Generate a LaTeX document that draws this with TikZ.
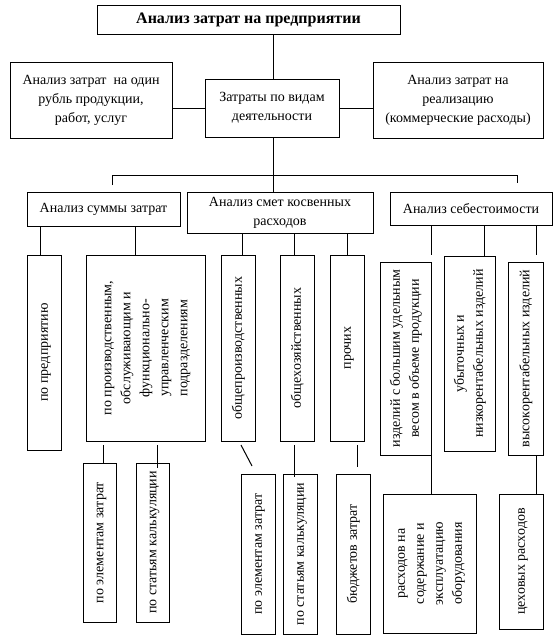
\documentclass[tikz,border=0pt]{standalone}
\usepackage{fontspec}
\setmainfont{Liberation Serif}
\usetikzlibrary{calc}
\newcommand{\vtext}[1]{\rotatebox{90}{\begin{tabular}{@{}c@{}}#1\end{tabular}}}
\begin{document}
\begin{tikzpicture}[x=1pt,y=-1pt,
  box/.style={draw, line width=1pt, inner sep=0pt, align=center, font=\fontsize{14}{19}\selectfont},
  title/.style={box, font=\bfseries\fontsize{16}{19}\selectfont},
  conn/.style={line width=1pt}]
\useasboundingbox (0,0) rectangle (557,641);
% level 0/1
\node[title, minimum width=303pt, minimum height=29pt] (top) at (248.5,19.5) {Анализ затрат на предприятии};
\node[box, minimum width=162pt, minimum height=76pt] (left) at (91,100) {Анализ затрат\ \ на один\\рубль продукции,\\работ, услуг};
\node[box, minimum width=134pt, minimum height=58pt] (mid) at (272,108) {Затраты по видам\\деятельности};
\node[box, minimum width=170pt, minimum height=76pt] (right) at (458,100) {Анализ затрат на\\реализацию\\(коммерческие расходы)};
% level 2
\node[box, minimum width=153pt, minimum height=34pt] (sum) at (103.5,209) {Анализ суммы затрат};
\node[box, minimum width=186pt, minimum height=41pt] (smet) at (280,212.5) {Анализ смет косвенных\\расходов};
\node[box, minimum width=162pt, minimum height=33pt] (seb) at (471,208.5) {Анализ себестоимости};
% level 3
\node[box, minimum width=34pt, minimum height=195pt] (pp) at (44,352.5) {\vtext{по предприятию}};
\node[box, minimum width=119pt, minimum height=186pt] (prod) at (145.5,348) {\vtext{по производственным,\\обслуживающим и\\функционально-\\управленческим\\подразделениям}};
\node[box, minimum width=34pt, minimum height=186pt] (op) at (238,348) {\vtext{общепроизводственных}};
\node[box, minimum width=34pt, minimum height=186pt] (ox) at (297,348) {\vtext{общехозяйственных}};
\node[box, minimum width=34pt, minimum height=186pt] (pr) at (347,348) {\vtext{прочих}};
\node[box, minimum width=51pt, minimum height=193pt] (iz) at (405.5,358.5) {\vtext{изделий с большим удельным\\весом в объеме продукции}};
\node[box, minimum width=51pt, minimum height=195pt] (ub) at (469.5,353.5) {\vtext{убыточных и\\низкорентабельных изделий}};
\node[box, minimum width=35pt, minimum height=193pt] (vr) at (525.5,358.5) {\vtext{высокорентабельных изделий}};
% level 4
\node[box, minimum width=33pt, minimum height=159pt] (e1) at (99.5,542.5) {\vtext{по элементам затрат}};
\node[box, minimum width=33pt, minimum height=159pt] (k1) at (152.5,542.5) {\vtext{по статьям калькуляции}};
\node[box, minimum width=34pt, minimum height=160pt] (e2) at (258,554) {\vtext{по элементам затрат}};
\node[box, minimum width=34pt, minimum height=160pt] (k2) at (300,554) {\vtext{по статьям калькуляции}};
\node[box, minimum width=34pt, minimum height=160pt] (bz) at (353,554) {\vtext{бюджетов затрат}};
\node[box, minimum width=93pt, minimum height=139pt] (rs) at (429.5,563.5) {\vtext{расходов на\\содержание и\\эксплуатацию\\оборудования}};
\node[box, minimum width=44pt, minimum height=135pt] (cx) at (521,561.5) {\vtext{цеховых расходов}};
% connector helper coordinates
\coordinate (mx) at (273,0);
\coordinate (busL) at (112,175);
\coordinate (busR) at (517,175);
\coordinate (gL) at (112,185);
\coordinate (gR) at (517,183);
\coordinate (xa) at (40,0);
\coordinate (xb) at (135,0);
\coordinate (xc) at (242,0);
\coordinate (xd) at (294,0);
\coordinate (xe) at (347,0);
\coordinate (xf) at (431,255);
\coordinate (xg) at (484,0);
\coordinate (xh) at (536,255);
\coordinate (ya) at (103,445);
\coordinate (yb) at (157,445);
\coordinate (yc1) at (241,445);
\coordinate (yc2) at (252,466);
\coordinate (yd1) at (294,445);
\coordinate (yd2) at (294,477);
\coordinate (ye1) at (357,445);
\coordinate (ye2) at (357,467);
\coordinate (yf) at (431,0);
\coordinate (yh) at (536,0);
% connectors
\draw[conn] (mx |- top.south) -- (mx |- mid.north);
\draw[conn] (mid.west) -- (mid.west -| left.east);
\draw[conn] (mid.east) -- (mid.east -| right.west);
\draw[conn] (mx |- mid.south) -- (mx |- smet.north);
\draw[conn] (gL) -- (busL) -- (busR) -- (gR);
\draw[conn] (xa |- sum.south) -- (xa |- pp.north);
\draw[conn] (xb |- sum.south) -- (xb |- prod.north);
\draw[conn] (xc |- smet.south) -- (xc |- op.north);
\draw[conn] (xd |- smet.south) -- (xd |- ox.north);
\draw[conn] (xe |- smet.south) -- (xe |- pr.north);
\draw[conn] (xf |- seb.south) -- (xf);
\draw[conn] (xg |- seb.south) -- (xg |- ub.north);
\draw[conn] (xh |- seb.south) -- (xh);
\draw[conn] (ya) -- (ya |- e1.north);
\draw[conn] (yb) -- ($(yb |- k1.north)+(0,5)$);
\draw[conn] (yc1) -- (yc2);
\draw[conn] (yd1) -- (yd2);
\draw[conn] (ye1) -- (ye2);
\draw[conn] (yf |- iz.south) -- (yf |- rs.north);
\draw[conn] (yh |- vr.south) -- (yh |- cx.north);
\end{tikzpicture}
\end{document}
